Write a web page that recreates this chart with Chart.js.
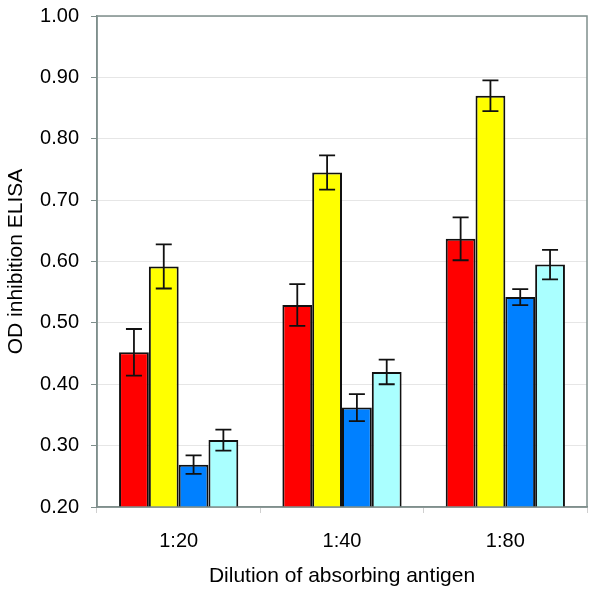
<!DOCTYPE html>
<html>
<head>
<meta charset="utf-8">
<script src="https://cdn.jsdelivr.net/npm/chart.js@4.4.1/dist/chart.umd.min.js"></script>
<style>
html,body{margin:0;padding:0;background:#fff}
#wrap{width:600px;height:594px}
</style>
</head>
<body>
<div id="wrap"><canvas id="c"></canvas></div>
<script>
const dilutions = ['1:20', '1:40', '1:80'];
const s1 = [0.452, 0.529, 0.637], e1 = [0.038, 0.034, 0.035];
const s2 = [0.592, 0.745, 0.870], e2 = [0.036, 0.028, 0.025];
const s3 = [0.269, 0.362, 0.542], e3 = [0.015, 0.022, 0.013];
const s4 = [0.309, 0.420, 0.595], e4 = [0.017, 0.020, 0.024];
const yTicks = [0.2, 0.3, 0.4, 0.5, 0.6, 0.7, 0.8, 0.9, 1.0];

const font = {family: '"Liberation Sans", Arial, sans-serif', size: 20};
const titleFont = {family: '"Liberation Sans", Arial, sans-serif', size: 21};
const frame = '#7f8f8c';

function ds(data, err, color){
  return {data, err, backgroundColor: color, borderColor: '#111', borderWidth: 2,
    barPercentage: 1.0, categoryPercentage: 0.73};
}

// error bars drawn from the y scale
const errBars = {
  id: 'errBars',
  afterDatasetsDraw(chart){
    const ctx = chart.ctx, y = chart.scales.y;
    ctx.save();
    ctx.strokeStyle = '#111'; ctx.lineWidth = 1.8;
    chart.data.datasets.forEach((d, i) => {
      chart.getDatasetMeta(i).data.forEach((bar, j) => {
        const v = d.data[j], e = d.err[j];
        const top = y.getPixelForValue(v + e), bot = y.getPixelForValue(v - e);
        ctx.beginPath();
        ctx.moveTo(bar.x, top); ctx.lineTo(bar.x, bot);
        ctx.moveTo(bar.x - 8, top); ctx.lineTo(bar.x + 8, top);
        ctx.moveTo(bar.x - 8, bot); ctx.lineTo(bar.x + 8, bot);
        ctx.stroke();
      });
    });
    ctx.restore();
  }
};

const box = {
  id: 'box',
  afterDraw(chart){
    const a = chart.chartArea, ctx = chart.ctx;
    ctx.save();
    ctx.strokeStyle = frame; ctx.lineWidth = 1.5;
    ctx.strokeRect(a.left, a.top, a.right - a.left, a.bottom - a.top);
    ctx.restore();
  }
};

new Chart(document.getElementById('c'), {
  type: 'bar',
  data: {
    labels: dilutions,
    datasets: [
      ds(s1, e1, '#ff0000'),
      ds(s2, e2, '#ffff00'),
      ds(s3, e3, '#0080ff'),
      ds(s4, e4, '#aaffff')
    ]
  },
  options: {
    responsive: true,
    maintainAspectRatio: false,
    animation: false,
    layout: {padding: {top: 16, right: 13, left: 0, bottom: 0}},
    plugins: {legend: {display: false}, tooltip: {enabled: false}},
    scales: {
      x: {
        grid: {display: true, drawOnChartArea: false, offset: true, tickLength: 6, tickColor: '#d0d0d0'},
        border: {color: frame, width: 1.5},
        ticks: {color: '#000', font, padding: 16},
        title: {display: true, text: 'Dilution of absorbing antigen', color: '#000', font: titleFont, padding: {top: 0, bottom: 5}},
        afterFit(s){ s.height = 87; s.paddingLeft = 0; s.paddingRight = 0; }
      },
      y: {
        min: 0.2, max: 1.0,
        afterBuildTicks(s){ s.ticks = yTicks.map(v => ({value: v})); },
        grid: {color: '#e6e6e6', tickLength: 6, tickColor: frame},
        border: {color: frame, width: 1.5},
        ticks: {color: '#000', font, padding: 12, callback: v => Number(v).toFixed(2)},
        title: {display: true, text: 'OD inhibition ELISA', color: '#000', font: titleFont, padding: {top: 4, bottom: 0}},
        afterFit(s){ s.width = 97; s.paddingTop = 0; s.paddingBottom = 0; }
      }
    }
  },
  plugins: [errBars, box]
});
</script>
</body>
</html>
